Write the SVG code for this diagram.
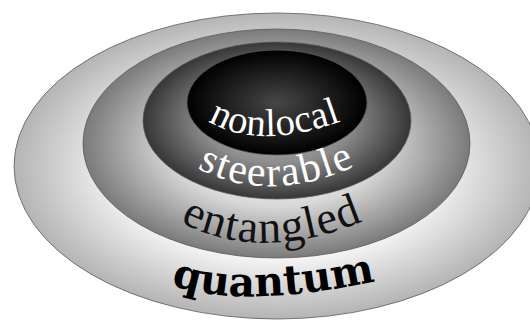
<svg xmlns="http://www.w3.org/2000/svg" width="530" height="320" viewBox="0 0 530 320">
  <style>
    .ring { stroke: #5a5a5a; stroke-width: 0.8; }
    .lbl { font-family: "Liberation Serif", "Times New Roman", serif; }
    .bold { font-family: "DejaVu Serif", "Liberation Serif", serif; font-weight: bold; }
  </style>
  <defs>
    <radialGradient id="gQuantum" cx="50%" cy="50%" r="50%">
      <stop offset="0" stop-color="#ffffff"/>
      <stop offset="0.6" stop-color="#f6f6f6"/>
      <stop offset="1" stop-color="#b4b4b4"/>
    </radialGradient>
    <radialGradient id="gEntangled" cx="50%" cy="50%" r="50%">
      <stop offset="0" stop-color="#ffffff"/>
      <stop offset="0.55" stop-color="#d8d8d8"/>
      <stop offset="1" stop-color="#7a7a7a"/>
    </radialGradient>
    <radialGradient id="gSteerable" cx="50%" cy="50%" r="50%">
      <stop offset="0" stop-color="#c0c0c0"/>
      <stop offset="0.55" stop-color="#8c8c8c"/>
      <stop offset="1" stop-color="#363636"/>
    </radialGradient>
    <radialGradient id="gNonlocal" cx="50%" cy="50%" r="50%">
      <stop offset="0" stop-color="#474747"/>
      <stop offset="0.6" stop-color="#1c1c1c"/>
      <stop offset="1" stop-color="#000000"/>
    </radialGradient>
    <path id="pNonlocal" d="M 208,121 Q 262,153 352,117"/>
    <path id="pSteerable" d="M 197,168 Q 268,206 358,165"/>
    <path id="pEntangled" d="M 180,222 Q 262,265 368,219"/>
    <path id="pQuantum" d="M 171,285 Q 245,310 380,280"/>
  </defs>

  <g id="quantum">
    <ellipse class="ring" cx="277" cy="166" rx="263" ry="153" fill="url(#gQuantum)"/>
  </g>
  <g id="entangled">
    <ellipse class="ring" cx="276.5" cy="143.5" rx="193.5" ry="114.5" fill="url(#gEntangled)"/>
  </g>
  <g id="steerable">
    <ellipse class="ring" cx="277" cy="120.5" rx="134" ry="78.5" fill="url(#gSteerable)"/>
  </g>
  <g id="nonlocal">
    <ellipse class="ring" cx="277" cy="102.5" rx="90" ry="52.5" fill="url(#gNonlocal)"/>
  </g>

  <g id="labels">
    <text class="lbl" font-size="39" fill="#ffffff" letter-spacing="0.5"><textPath href="#pNonlocal">nonlocal</textPath></text>
    <text class="lbl" font-size="42" fill="#ffffff" letter-spacing="1.8"><textPath href="#pSteerable">steerable</textPath></text>
    <text class="lbl" font-size="46" fill="#111111" letter-spacing="1.3"><textPath href="#pEntangled">entangled</textPath></text>
    <text class="bold" font-size="41" fill="#000000"><textPath href="#pQuantum">quantum</textPath></text>
  </g>
</svg>
